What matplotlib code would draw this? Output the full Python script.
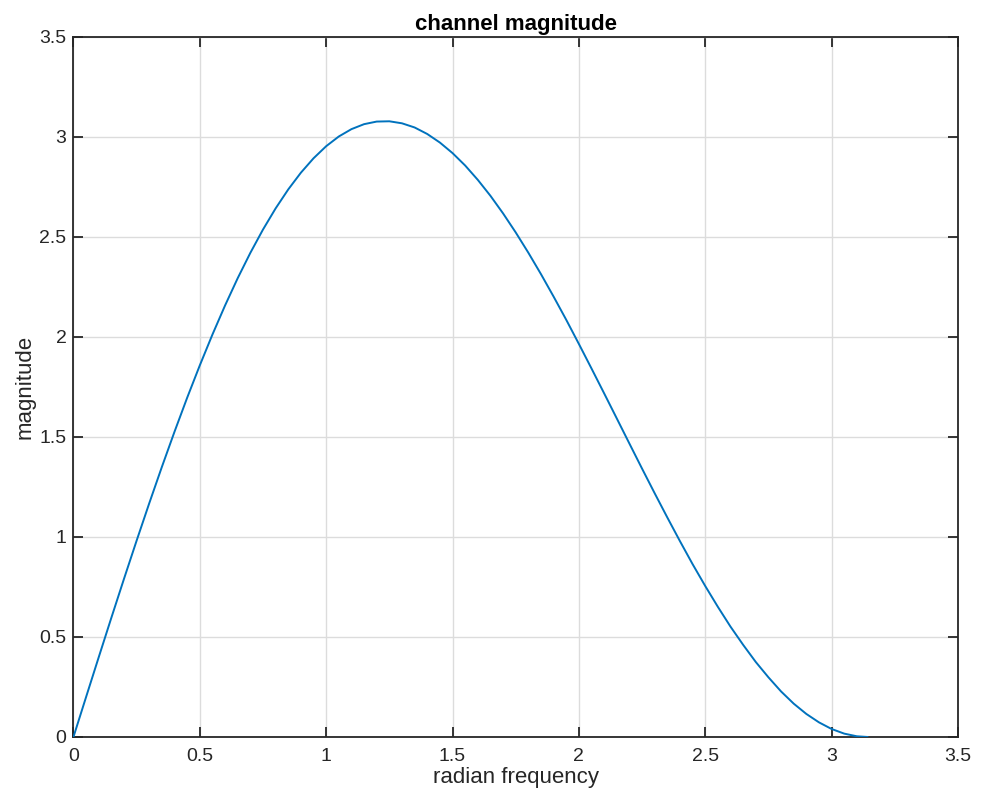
import matplotlib
matplotlib.use("Agg")
import matplotlib.pyplot as plt

# radian frequency samples and magnitude values
freq = [0.00, 0.05, 0.10, 0.15, 0.20, 0.25, 0.30, 0.35, 0.40, 0.45,
        0.50, 0.55, 0.60, 0.65, 0.70, 0.75, 0.80, 0.85, 0.90, 0.95,
        1.00, 1.05, 1.10, 1.15, 1.20, 1.25, 1.30, 1.35, 1.40, 1.45,
        1.50, 1.55, 1.60, 1.65, 1.70, 1.75, 1.80, 1.85, 1.90, 1.95,
        2.00, 2.05, 2.10, 2.15, 2.20, 2.25, 2.30, 2.35, 2.40, 2.45,
        2.50, 2.55, 2.60, 2.65, 2.70, 2.75, 2.80, 2.85, 2.90, 2.95,
        3.00, 3.05, 3.10, 3.1416]
magnitude = [0.0000, 0.1999, 0.3988, 0.5961, 0.7907, 0.9819, 1.1688, 1.3506, 1.5266, 1.6963,
             1.8581, 2.0122, 2.1577, 2.2941, 2.4206, 2.5371, 2.6429, 2.7378, 2.8214, 2.8934,
             2.9538, 3.0024, 3.0391, 3.0640, 3.0770, 3.0784, 3.0683, 3.0475, 3.0149, 2.9721,
             2.9194, 2.8573, 2.7856, 2.7059, 2.6179, 2.5228, 2.4214, 2.3142, 2.2018, 2.0858,
             1.9652, 1.8423, 1.7180, 1.5926, 1.4669, 1.3417, 1.2184, 1.0974, 0.9790, 0.8641,
             0.7548, 0.6506, 0.5516, 0.4607, 0.3749, 0.2984, 0.2277, 0.1667, 0.1152, 0.0731,
             0.0399, 0.0167, 0.0034, 0.0000]

xticks = [0, 0.5, 1, 1.5, 2, 2.5, 3, 3.5]
yticks = [0, 0.5, 1, 1.5, 2, 2.5, 3, 3.5]
xticklabels = ["0", "0.5", "1", "1.5", "2", "2.5", "3", "3.5"]
yticklabels = ["0", "0.5", "1", "1.5", "2", "2.5", "3", "3.5"]

plt.rcParams['font.family'] = ['Liberation Sans', 'DejaVu Sans']
axcol = '#262626'

fig = plt.figure(figsize=(9.82, 7.95), dpi=100)
ax = fig.add_axes([0.0748, 0.0730, 0.9007, 0.8805])
ax.plot(freq, magnitude, color='#0072BD', lw=1.4, zorder=3)
ax.set_xlim(0, 3.5)
ax.set_ylim(0, 3.5)
ax.set_xticks(xticks)
ax.set_xticklabels(xticklabels)
ax.set_yticks(yticks)
ax.set_yticklabels(yticklabels)
ax.grid(True, color='#dcdcdc', lw=1.0, zorder=0)
ax.set_axisbelow(True)
ax.tick_params(direction='in', length=7, width=1.3, colors=axcol,
               labelsize=14, top=True, right=True)
ax.tick_params(axis='x', pad=8)
ax.tick_params(axis='y', pad=5)
for s in ax.spines.values():
    s.set_color(axcol)
    s.set_linewidth(1.3)
ax.set_title('channel magnitude', fontsize=16, fontweight='bold', color='black', pad=5)
ax.set_xlabel('radian frequency', fontsize=16, color=axcol, labelpad=1.5)
ax.set_ylabel('magnitude', fontsize=16, color=axcol, labelpad=2.5)

fig.savefig('out.png', dpi=100)
